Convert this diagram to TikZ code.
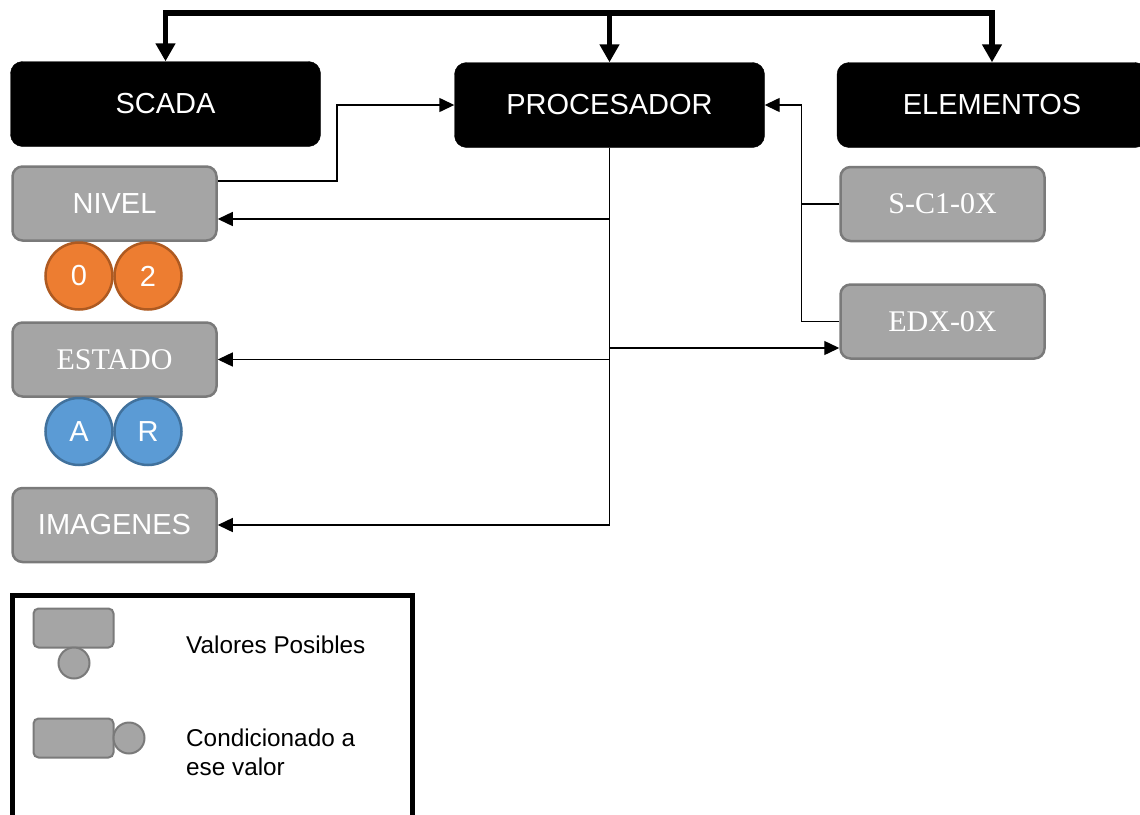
\documentclass[tikz,border=0pt]{standalone}
\usepackage{fontspec}
\setmainfont{Liberation Sans}
\newfontfamily\serifface{Liberation Serif}
\usetikzlibrary{arrows.meta}

\definecolor{boxgray}{HTML}{A5A5A5}
\definecolor{boxedge}{HTML}{7A7A7A}
\definecolor{orangefill}{HTML}{ED7D31}
\definecolor{orangeedge}{HTML}{AE5A21}
\definecolor{bluefill}{HTML}{5B9BD5}
\definecolor{blueedge}{HTML}{41719C}

\begin{document}
\begin{tikzpicture}[x=1pt,y=-1pt,
  bigfont/.style={font=\fontsize{29}{34}\selectfont},
  blackbox/.style={rectangle, rounded corners=12pt, fill=black, draw=black,
    text=white, minimum width=310pt, minimum height=85pt, inner sep=0pt, bigfont},
  graybox/.style={rectangle, rounded corners=10pt, fill=boxgray, draw=boxedge,
    line width=2.5pt, text=white, minimum width=204pt, minimum height=74pt,
    inner sep=0pt, bigfont},
  serifbox/.style={graybox, font=\serifface\fontsize{30}{34}\selectfont},
  valcircle/.style={circle, minimum size=67pt, inner sep=0pt, line width=2.5pt,
    text=white, bigfont},
  orangeval/.style={valcircle, fill=orangefill, draw=orangeedge},
  blueval/.style={valcircle, fill=bluefill, draw=blueedge},
  keybox/.style={rectangle, rounded corners=5pt, fill=boxgray, draw=boxedge,
    line width=2pt, minimum width=80pt, minimum height=39pt, inner sep=0pt},
  keycircle/.style={circle, fill=boxgray, draw=boxedge, line width=2pt,
    minimum size=31pt, inner sep=0pt},
  keytext/.style={anchor=west, align=left, inner sep=0pt,
    font=\fontsize{24.3}{29}\selectfont},
  arr/.style={line width=1.4pt, -{Triangle[length=15pt,width=14pt]}},
  bigarr/.style={line width=5.5pt, line join=miter,
    -{Triangle[length=18pt,width=19pt]}}
]
\useasboundingbox (0,0) rectangle (1140,814);

% main blocks
\node[blackbox] (scada) at (165.5,104) {SCADA};
\node[blackbox] (proc) at (609.5,105) {PROCESADOR};
\node[blackbox] (elem) at (992,105) {ELEMENTOS};

% left column
\node[graybox] (nivel) at (114.5,203.5) {NIVEL};
\node[orangeval] (v0) at (79,276) {0};
\node[orangeval] (v2) at (148,276) {2};
\node[serifbox] (estado) at (114.5,359.5) {ESTADO};
\node[blueval] (va) at (79,431.5) {A};
\node[blueval] (vr) at (148,431.5) {R};
\node[graybox] (imag) at (114.5,525) {IMAGENES};

% right column
\node[serifbox] (sc) at (942.5,204) {S-C1-0X};
\node[serifbox] (edx) at (942.5,321.5) {EDX-0X};

% top distribution bus
\coordinate (top) at (609.5,13);
\draw[bigarr] (top) -| (scada.north);
\draw[bigarr] (top) -| (elem.north);
\draw[bigarr] (top) -- (proc.north);

% connectors
\coordinate (jl) at (337,105);
\coordinate (jr) at (801.5,105);
\draw[arr] ([yshift=22.5pt]nivel.east) -| (jl) -- (proc.west);
\draw[arr] (edx.west) -| (jr) -- (proc.east);
\draw[line width=1.4pt] (sc.west) -- (sc.west -| jr);
\draw[arr] (proc.south) |- ([yshift=-15.5pt]nivel.east);
\draw[arr] (proc.south) |- (estado.east);
\draw[arr] (proc.south) |- (imag.east);
\draw[arr] (proc.south) |- ([yshift=-26.5pt]edx.west);

% legend
\draw[line width=5pt] (12.5,595) rectangle (412.5,840);
\node[keybox] (k1) at (73.5,628) {};
\node[keycircle] (k1c) at (74,663) {};
\node[keytext] (t1) at (186,645) {Valores Posibles};
\node[keybox] (k2) at (73.5,738) {};
\node[keycircle] (k2c) at (129,738) {};
\node[keytext] (t2) at (186,752) {Condicionado a\\ese valor};
\end{tikzpicture}
\end{document}
